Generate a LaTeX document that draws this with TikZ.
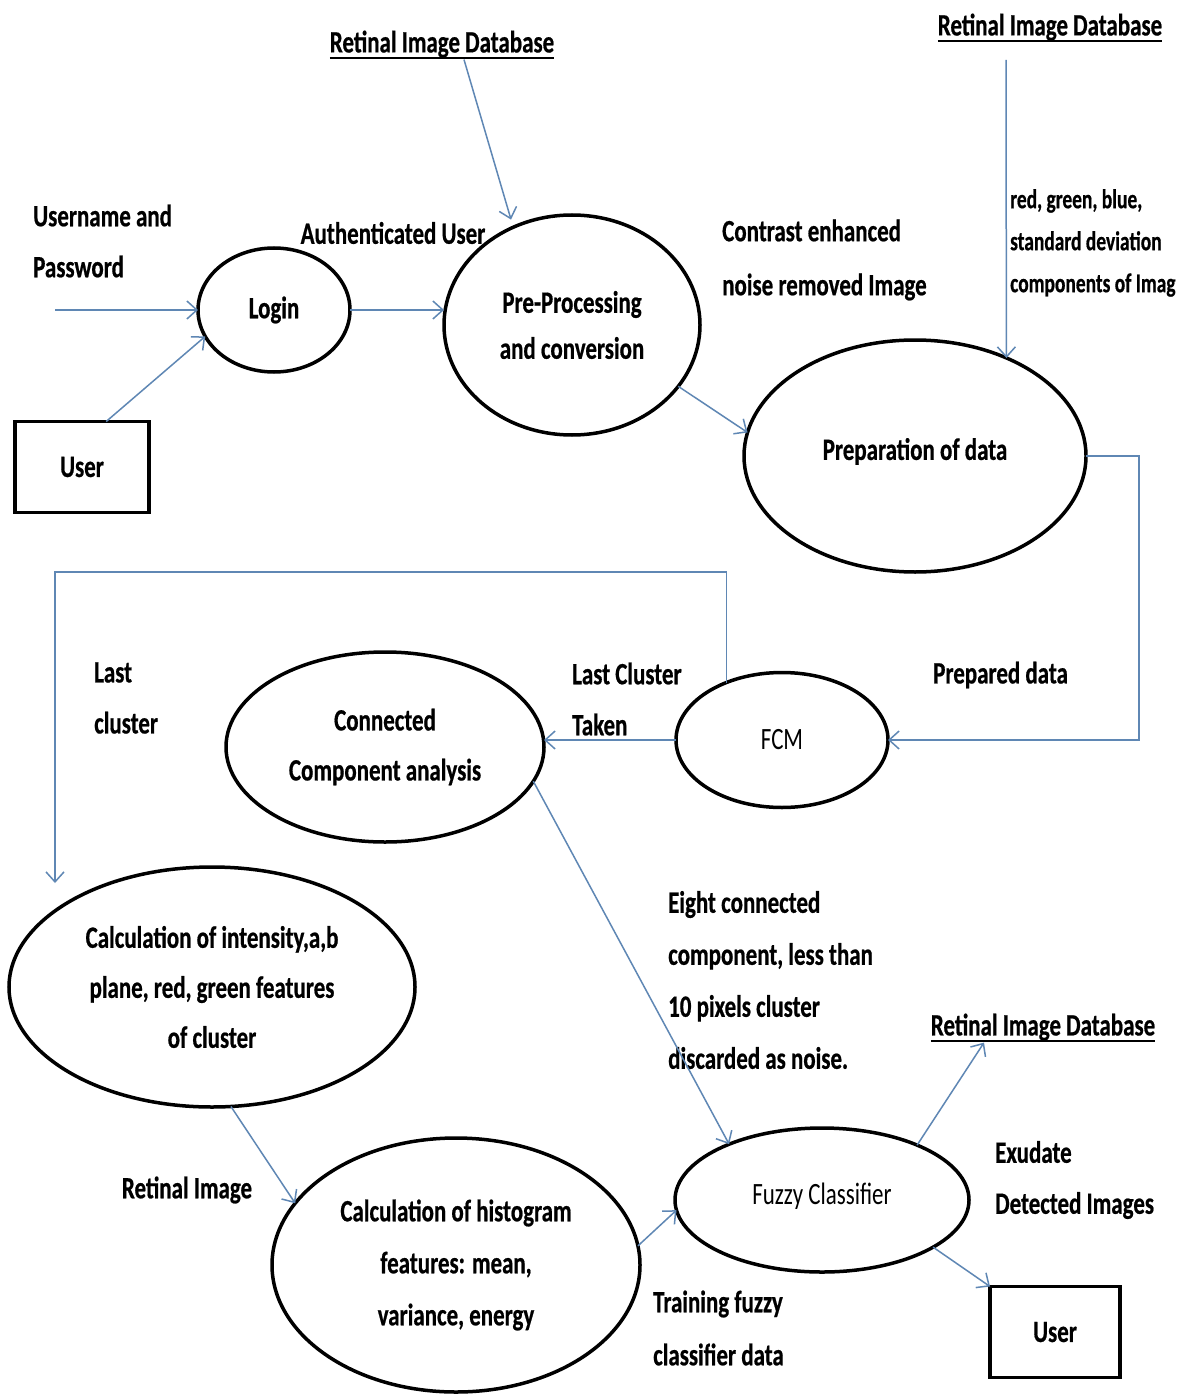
\documentclass[tikz,border=0pt]{standalone}
\usepackage{fontspec}
\setmainfont{Carlito}[FakeStretch=0.74, BoldFeatures={FakeBold=0.6}]
\newfontfamily\smallfont{Carlito}[FakeStretch=0.72, BoldFeatures={FakeBold=0.6}]
\usetikzlibrary{arrows.meta,shapes.geometric,calc}
\definecolor{flow}{RGB}{95,135,180}
\newcommand\thickul[1]{\setbox0\hbox{#1}\rlap{\copy0}\rule[-7pt]{\wd0}{2.2pt}}
\begin{document}
\begin{tikzpicture}[x=1pt,y=-1pt,
  proc/.style={ellipse, draw=black, line width=3.5pt, inner sep=0pt, outer sep=0pt,
    align=center, font=\fontsize{31}{50}\selectfont\bfseries},
  ent/.style={rectangle, draw=black, line width=3.5pt, inner sep=0pt, outer sep=0pt,
    font=\fontsize{31}{50}\selectfont\bfseries},
  lbl/.style={inner sep=0pt, align=left, font=\fontsize{31}{51}\selectfont\bfseries},
  slbl/.style={inner sep=0pt, align=left, font=\fontsize{27}{42}\smallfont\bfseries},
  flowline/.style={draw=flow, line width=1.5pt, -{Straight Barb[length=10pt,width=18pt,line width=1.5pt]}},
  plainflow/.style={draw=flow, line width=1.5pt}
]
\useasboundingbox (0,0) rectangle (1193,1396);
\fill[white] (0,0) rectangle (1193,1396);

% process nodes
\node[proc, minimum width=152pt, minimum height=124pt] (login) at (274,310) {Login};
\node[ent, minimum width=134pt, minimum height=91pt] (user1) at (82,467) {User};
\node[proc, minimum width=256pt, minimum height=220pt, font=\fontsize{31}{46}\selectfont\bfseries] (pre) at (572,325) {\raisebox{6pt}{\parbox{150pt}{\centering Pre-Processing\\and conversion}}};
\node[proc, minimum width=342pt, minimum height=232pt] (prep) at (915,456) {\raisebox{14pt}{Preparation of data}};
\node[proc, minimum width=212pt, minimum height=135pt, font=\fontsize{31}{50}\selectfont] (fcm) at (782,740) {FCM};
\node[proc, minimum width=318pt, minimum height=190pt] (cca) at (385,747) {Connected\\Component analysis};
\node[proc, minimum width=406pt, minimum height=240pt] (int) at (212,987) {Calculation of intensity,a,b\\plane, red, green features\\of cluster};
\node[proc, minimum width=368pt, minimum height=254pt, font=\fontsize{31}{52}\selectfont\bfseries] (hist) at (456,1265) {Calculation of histogram\\features: mean,\\variance, energy};
\node[proc, minimum width=294pt, minimum height=144pt, font=\fontsize{31}{50}\selectfont] (fuzzy) at (822,1200) {\raisebox{12pt}{Fuzzy Classifier}};
\node[ent, minimum width=130pt, minimum height=91pt] (user2) at (1055,1332) {User};

% data stores / labels
\node[lbl] (db1) at (442,45) {\thickul{Retinal Image Database}};
\node[lbl] (db2) at (1050,28) {\thickul{Retinal Image Database}};
\node[lbl] (db3) at (1043,1028) {\thickul{Retinal Image Database}};
\node[lbl, anchor=west] (userpw) at (33,241) {Username and\\Password};
\node[lbl] (auth) at (393,233) {Authenticated User};
\node[lbl, anchor=west, font=\fontsize{31}{54}\selectfont\bfseries] (contrast) at (722,260) {Contrast enhanced\\noise removed Image};
\node[slbl, anchor=west] (rgb) at (1010,243) {red, green, blue,\\standard deviation\\components of Imag};
\node[lbl, anchor=west] (prepared) at (933,675) {Prepared data};
\node[lbl, anchor=west] (lastct) at (572,699) {Last Cluster\\Taken};
\node[lbl, anchor=west] (lastc) at (94,698) {Last\\cluster};
\node[lbl] (retimg) at (187,1190) {Retinal Image};
\node[lbl, anchor=west, font=\fontsize{31}{52}\selectfont\bfseries] (eight) at (668,980) {Eight connected\\component, less than\\10 pixels cluster\\discarded as noise.};
\node[lbl, anchor=west] (exudate) at (995,1180) {Exudate\\Detected Images};
\node[lbl, anchor=west, font=\fontsize{31}{53}\selectfont\bfseries] (training) at (653,1328) {Training fuzzy\\classifier data};

% free ends
\coordinate (pwstart) at (55,310);
\coordinate (d2) at (1006,60);
\coordinate (lt) at (55,572);
\coordinate (lb) at (55,883);

% connectors
\draw[flowline] (pwstart) -- (login.west);
\draw[flowline] (user1.62) -- (login.201);
\draw[flowline] (login.east) -- (login.east -| pre.west);
\draw[flowline, shorten >=8pt] ($(db1.south)+(22,0)$) -- (pre.121);
\draw[flowline] (pre.-30) -- (prep.172);
\draw[flowline] (d2) -- (prep.47);
\draw[flowline] (prep.east) -- ++(53,0) |- (fcm.east);
\draw[flowline] (fcm.west) -- (fcm.west -| cca.east);
\draw[flowline] (fcm.134) |- (lt) -- (lb);
\draw[flowline] (cca.-13) -- (fuzzy.149);
\draw[flowline] (int.-81) -- (hist.159);
\draw[flowline] (hist.6) -- (fuzzy.184);
\draw[flowline] (fuzzy.30) -- ($(db3.south)+(-59,0)$);
\draw[flowline] (fuzzy.-23) -- (user2.north west);
\end{tikzpicture}
\end{document}
